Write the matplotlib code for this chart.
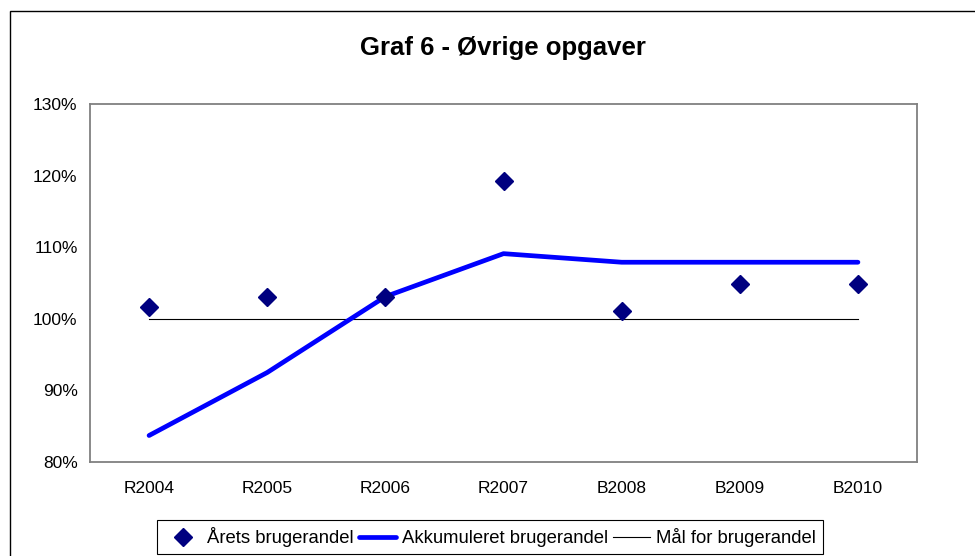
import numpy as np
import matplotlib.pyplot as plt
from matplotlib.patches import Rectangle
from matplotlib.ticker import FuncFormatter

# data
categories = ["R2004", "R2005", "R2006", "R2007", "B2008", "B2009", "B2010"]
aarets = [101.7, 103.1, 103.1, 119.3, 101.1, 104.8, 104.8]
akkumuleret = [83.7, 92.5, 103.1, 109.1, 107.9, 107.9, 107.9]
maal = [100, 100, 100, 100, 100, 100, 100]

plt.rcParams['font.family'] = ['Liberation Sans', 'DejaVu Sans']

fig = plt.figure(figsize=(9.75, 5.56), dpi=100)
ax = fig.add_axes([90 / 975, 1 - 462 / 556, 827 / 975, 358 / 556])

x = np.arange(len(categories))
ax.plot(x, aarets, linestyle='none', marker='D', markersize=9.2,
        color='#000080', label='Årets brugerandel', zorder=4)
ax.plot(x, akkumuleret, color='#0000ff', linewidth=3.4,
        solid_capstyle='round', label='Akkumuleret brugerandel', zorder=3)
ax.plot(x, maal, color='black', linewidth=0.8, label='Mål for brugerandel', zorder=2)

ax.set_xlim(-0.5, len(categories) - 0.5)
ax.set_ylim(80, 130)
ax.set_yticks(np.arange(80, 131, 10))
ax.yaxis.set_major_formatter(FuncFormatter(lambda v, p: f"{v:.0f}%"))
ax.set_xticks(x)
ax.set_xticklabels(categories)
ax.tick_params(axis='both', length=0, labelsize=12.5)
ax.tick_params(axis='y', pad=9)
ax.tick_params(axis='x', pad=14)
for s in ax.spines.values():
    s.set_color('#808080')
    s.set_linewidth(1.3)

fig.text(503 / 975, 1 - 48 / 556, "Graf 6 - Øvrige opgaver", ha='center', va='center',
         fontsize=18.5, fontweight='bold')

leg = fig.legend(loc='center', bbox_to_anchor=(490 / 975, 1 - 537 / 556), ncol=3,
                 fontsize=13.3, frameon=True, fancybox=False, framealpha=1,
                 edgecolor='black', handlelength=2.0, handletextpad=0.3,
                 columnspacing=0.3, borderpad=0.4, borderaxespad=0)
leg.get_frame().set_linewidth(0.8)

# outer chart border
fig.patches.append(Rectangle((10 / 975, -0.1), 1.2, 1 - 11 / 556 + 0.1,
                             transform=fig.transFigure, fill=False,
                             edgecolor='black', linewidth=1.0))

fig.savefig("out.png", dpi=100)
